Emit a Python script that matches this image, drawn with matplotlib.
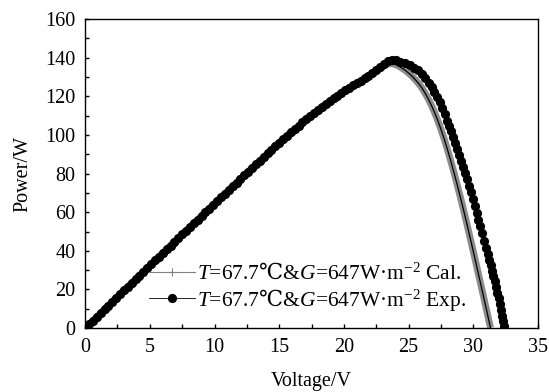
import matplotlib
matplotlib.use("Agg")
import matplotlib.pyplot as plt
from matplotlib.lines import Line2D
from matplotlib.ticker import MultipleLocator

plt.rcParams["font.family"] = ["Liberation Serif", "DejaVu Serif"]
plt.rcParams["mathtext.fontset"] = "custom"
plt.rcParams["mathtext.rm"] = "Liberation Serif"
plt.rcParams["mathtext.it"] = "Liberation Serif:italic"
plt.rcParams["mathtext.sf"] = "DejaVu Serif"  # only used for the ℃ sign

# measured P-V curve (Exp.)
exp_v = [0, 0.3, 0.6, 0.9, 1.2, 1.5, 1.8, 2.1, 2.4, 2.7, 3.0, 3.3, 3.6, 3.9, 4.2, 4.5, 4.8,
         5.1, 5.4, 5.7, 6.0, 6.3, 6.6, 6.9, 7.2, 7.5, 7.8, 8.1, 8.4, 8.7, 9.0, 9.3, 9.6, 9.9,
         10.2, 10.5, 10.8, 11.1, 11.4, 11.7, 12.0, 12.3, 12.6, 12.9, 13.2, 13.5, 13.8, 14.1,
         14.4, 14.7, 15.0, 15.3, 15.6, 15.9, 16.2, 16.5, 16.8, 17.1, 17.4, 17.7, 18.0, 18.3,
         18.6, 18.9, 19.2, 19.5, 19.8, 20.1, 20.4, 20.7, 21.0, 21.3, 21.6, 21.9, 22.2, 22.5,
         22.8, 23.1, 23.4, 23.7, 24.0, 24.3, 24.7, 25.1, 25.4, 25.7, 26.0, 26.3, 26.55, 26.8,
         27.0, 27.2, 27.4, 27.6, 27.8, 28.0, 28.15, 28.3, 28.45, 28.6, 28.75, 28.9, 29.05,
         29.2, 29.35, 29.5, 29.65, 29.8, 29.95, 30.1, 30.25, 30.4, 30.55, 30.7, 30.85, 31.0,
         31.12, 31.25, 31.35, 31.45, 31.55, 31.65, 31.75, 31.85, 31.95, 32.05, 32.15, 32.25,
         32.33, 32.4]
exp_p = [0, 1.9, 3.9, 5.8, 7.8, 9.7, 11.7, 13.6, 15.6, 17.5, 19.5, 21.4, 23.3, 25.3, 27.2,
         29.2, 31.1, 33.0, 35.0, 36.9, 38.8, 40.8, 42.7, 44.6, 46.5, 48.5, 50.4, 52.3, 54.2,
         56.2, 58.1, 60.0, 61.9, 63.9, 65.8, 67.7, 69.6, 71.5, 73.4, 75.3, 77.2, 79.1, 80.9,
         82.8, 84.7, 86.6, 88.5, 90.4, 92.2, 94.1, 96.0, 97.8, 99.5, 101.3, 103.0, 104.7,
         106.5, 108.2, 109.8, 111.4, 113.0, 114.5, 116.0, 117.5, 118.9, 120.3, 121.7, 123.0,
         124.3, 125.6, 126.8, 128.1, 129.3, 130.5, 132.0, 133.5, 135.1, 136.6, 138.2, 139.0,
         138.8, 138.0, 137.1, 136.0, 134.9, 133.4, 131.5, 129.3, 127.1, 124.6, 122.3, 119.8,
         117.0, 114.0, 110.8, 107.4, 104.7, 101.9, 99.0, 96.0, 92.9, 89.8, 86.6, 83.4, 80.2,
         77.0, 73.6, 70.2, 66.8, 63.3, 59.8, 56.2, 52.6, 49.0, 45.3, 41.6, 38.5, 35.2, 32.5,
         29.8, 27.0, 24.2, 21.3, 18.4, 15.4, 12.4, 9.3, 6.1, 3.5, 1.2]

# calculated P-V curve (Cal.)
cal_v = [0, 0.5, 1, 1.5, 2, 2.5, 3, 3.5, 4, 4.5, 5, 5.5, 6, 6.5, 7, 7.5, 8, 8.5, 9, 9.5, 10,
         10.5, 11, 11.5, 12, 12.5, 13, 13.5, 14, 14.5, 15, 15.5, 16, 16.5, 17, 17.5, 18, 18.5,
         19, 19.5, 20, 20.5, 21, 21.5, 22, 22.25, 22.5, 22.75, 23.0, 23.25, 23.5, 23.75, 24.0,
         24.25, 24.5, 24.75, 25.0, 25.25, 25.5, 25.75, 26.0, 26.25, 26.5, 26.75, 27.0, 27.25,
         27.5, 27.75, 28.0, 28.25, 28.5, 28.75, 29.0, 29.25, 29.5, 29.75, 30.0, 30.25, 30.5,
         30.75, 31.0, 31.25, 31.33]
cal_p = [0, 3.25, 6.5, 9.7, 13.0, 16.2, 19.5, 22.7, 25.9, 29.2, 32.4, 35.6, 38.8, 42.1, 45.3,
         48.5, 51.7, 54.9, 58.1, 61.3, 64.5, 67.7, 70.8, 74.0, 77.2, 80.3, 83.5, 86.6, 89.7,
         92.8, 95.9, 98.9, 101.8, 104.6, 107.5, 110.2, 112.9, 115.4, 117.8, 120.1, 122.4,
         124.6, 126.7, 128.7, 130.6, 131.6, 132.9, 134.1, 135.4, 136.4, 136.9, 136.9, 136.4,
         135.6, 134.5, 133.4, 132.0, 130.5, 128.7, 126.8, 124.6, 121.9, 118.9, 115.5, 111.7,
         107.5, 102.9, 97.9, 92.5, 86.7, 80.6, 74.3, 67.8, 61.0, 54.0, 46.9, 39.6, 32.3, 24.9,
         17.5, 10.0, 2.5, 0.2]

lab_cal = r"$\mathit{T}$=67.7$\mathsf{℃}$&$\mathit{G}$=647W·m$^{-2}$ Cal."
lab_exp = r"$\mathit{T}$=67.7$\mathsf{℃}$&$\mathit{G}$=647W·m$^{-2}$ Exp."

fig = plt.figure(figsize=(5.49, 3.92), dpi=100)
ax = fig.add_axes([0.155, 0.163, 0.825, 0.7885])

# dense "+" markers of the Cal. curve look like a grey band with a black core
ax.plot(cal_v, cal_p, color="#8c8c8c", lw=5, solid_capstyle="butt", zorder=2)
ax.plot(cal_v, cal_p, color="k", lw=0.9, zorder=3)
ax.plot(exp_v, exp_p, color="k", lw=0.6, marker="o", ms=5.6, mfc="k", mec="k", zorder=4)

handles = [
    Line2D([], [], color="#808080", lw=0.8, marker="+", ms=6, mew=0.8),
    Line2D([], [], color="k", lw=0.6, marker="o", ms=5.6),
]
ax.legend(handles, [lab_cal, lab_exp], loc="lower left", bbox_to_anchor=(0.14, 0.05),
          frameon=False, fontsize=15.5, handlelength=2.15, handletextpad=0.1,
          borderpad=0, borderaxespad=0, labelspacing=0.12)

ax.set_xlim(0, 35)
ax.set_ylim(0, 160)
ax.xaxis.set_major_locator(MultipleLocator(5))
ax.xaxis.set_minor_locator(MultipleLocator(2.5))
ax.yaxis.set_major_locator(MultipleLocator(20))
ax.yaxis.set_minor_locator(MultipleLocator(10))
ax.tick_params(which="both", direction="in", length=2.6, width=1, labelsize=14.5)
ax.tick_params(axis="x", pad=7)
ax.tick_params(axis="y", pad=7)
for s in ax.spines.values():
    s.set_linewidth(1)

ax.set_xlabel("Voltage/V", fontsize=14.5, labelpad=11)
ax.set_ylabel("Power/W", fontsize=14.5, labelpad=9)

fig.savefig("out.png", dpi=100)
